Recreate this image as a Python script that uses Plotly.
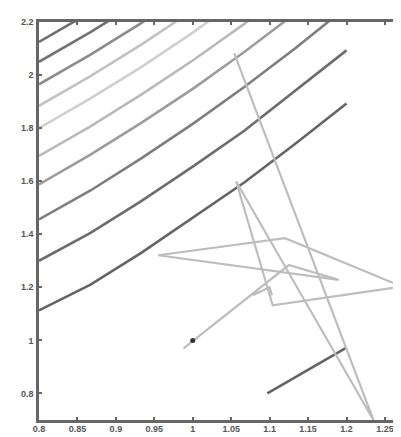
import plotly.graph_objects as go

# ---- data ----
grid_x = [0.8, 0.867, 0.933, 1.0, 1.067, 1.133, 1.2]

# contour lines (upper side), y at each grid x (lines leave through the top)
contour_1 = [2.125, 2.237]
contour_2 = [2.05, 2.162, 2.28]
contour_3 = [1.965, 2.077, 2.196, 2.325]
contour_4 = [1.884, 1.996, 2.115, 2.244]
contour_5 = [1.80, 1.912, 2.03, 2.16, 2.30]
contour_6 = [1.695, 1.807, 1.926, 2.055, 2.193, 2.34]
contour_7 = [1.588, 1.70, 1.82, 1.948, 2.087, 2.232]
contour_8 = [1.456, 1.565, 1.686, 1.816, 1.955, 2.10, 2.256]
contour_9 = [1.30, 1.405, 1.525, 1.655, 1.79, 1.94, 2.093]
contour_10 = [1.113, 1.21, 1.33, 1.462, 1.595, 1.74, 1.893]
contour_colors = ["#6e6e6e", "#727272", "#8c8c8c", "#c2c2c2", "#cfcfcf",
                  "#b9b9b9", "#9c9c9c", "#7e7e7e", "#6c6c6c", "#646464"]

# lower-side contour piece
lower_x = [1.097, 1.2]
lower_y = [0.80, 0.973]

# trajectory (light grey path)
traj_x = [0.988, 1.125, 1.19, 0.955, 1.12, 1.272, 1.104, 1.0565, 1.235, 1.054]
traj_y = [0.970, 1.284, 1.228, 1.321, 1.385, 1.203, 1.132, 1.599, 0.70, 2.082]
spur_x = [1.078, 1.100, 1.103]
spur_y = [1.170, 1.200, 1.170]

# marked point
dot_x = [1.0]
dot_y = [1.0]

x_ticks = [0.8, 0.85, 0.9, 0.95, 1.0, 1.05, 1.1, 1.15, 1.2, 1.25]
x_labels = ["0.8", "0.85", "0.9", "0.95", "1", "1.05", "1.1", "1.15", "1.2", "1.25"]
y_ticks = [0.8, 1.0, 1.2, 1.4, 1.6, 1.8, 2.0, 2.2]
y_labels = ["0.8", "1", "1.2", "1.4", "1.6", "1.8", "2", "2.2"]

fig = go.Figure()

contours = [contour_1, contour_2, contour_3, contour_4, contour_5,
            contour_6, contour_7, contour_8, contour_9, contour_10]
for ys, col in zip(contours, contour_colors):
    fig.add_trace(go.Scatter(x=grid_x[:len(ys)], y=ys, mode="lines",
                             line=dict(color=col, width=2.6),
                             showlegend=False, hoverinfo="skip"))

fig.add_trace(go.Scatter(x=lower_x, y=lower_y, mode="lines",
                         line=dict(color="#646464", width=2.6),
                         showlegend=False))

fig.add_trace(go.Scatter(x=traj_x, y=traj_y, mode="lines",
                         line=dict(color="#bdbdbd", width=2.2),
                         showlegend=False))
fig.add_trace(go.Scatter(x=spur_x, y=spur_y, mode="lines",
                         line=dict(color="#bdbdbd", width=2.2),
                         showlegend=False))
fig.add_trace(go.Scatter(x=dot_x, y=dot_y, mode="markers",
                         marker=dict(color="#333333", size=5),
                         showlegend=False))

axis_font = dict(family="Liberation Sans", size=9, color="#555555", weight="bold")

fig.update_xaxes(range=[0.8, 1.2774], tickvals=x_ticks, ticktext=x_labels,
                 showgrid=False, zeroline=False, showline=True,
                 linecolor="#666666", linewidth=2.6, mirror="ticks",
                 ticks="inside", ticklen=3, tickwidth=2, tickcolor="#666666",
                 tickfont=axis_font, ticklabelstandoff=-2)
fig.update_yaxes(range=[0.7, 2.2], tickvals=y_ticks, ticktext=y_labels,
                 showgrid=False, zeroline=False, showline=True,
                 linecolor="#666666", linewidth=2.6, mirror="ticks",
                 ticks="inside", ticklen=3, tickwidth=2, tickcolor="#666666",
                 tickfont=axis_font, ticklabelstandoff=1)

fig.update_layout(width=401, height=437,
                  margin=dict(l=31, r=0, t=14, b=25, pad=0),
                  paper_bgcolor="white", plot_bgcolor="white")

fig.write_html("out.html")
